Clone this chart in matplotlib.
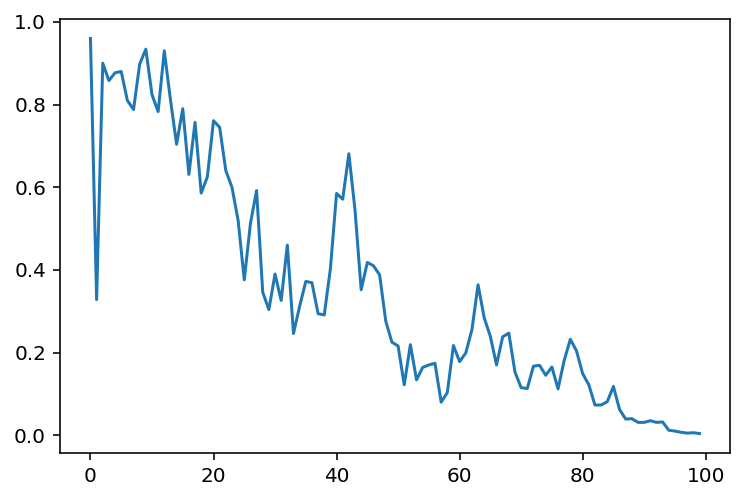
import matplotlib
matplotlib.use("Agg")
import matplotlib.pyplot as plt
import numpy as np

# values, one per step (0..99)
steps = np.arange(100)
values = [
    0.960, 0.328, 0.900, 0.858, 0.877, 0.880, 0.810, 0.788, 0.898, 0.934,
    0.824, 0.783, 0.930, 0.812, 0.704, 0.790, 0.631, 0.757, 0.586, 0.625,
    0.761, 0.745, 0.640, 0.600, 0.520, 0.376, 0.512, 0.592, 0.346, 0.304,
    0.390, 0.326, 0.460, 0.246, 0.312, 0.372, 0.369, 0.294, 0.291, 0.403,
    0.585, 0.571, 0.681, 0.545, 0.352, 0.418, 0.410, 0.388, 0.276, 0.225,
    0.216, 0.122, 0.219, 0.134, 0.164, 0.170, 0.174, 0.080, 0.103, 0.217,
    0.178, 0.199, 0.255, 0.364, 0.284, 0.239, 0.170, 0.238, 0.247, 0.153,
    0.115, 0.113, 0.167, 0.169, 0.145, 0.165, 0.112, 0.181, 0.232, 0.204,
    0.149, 0.122, 0.073, 0.073, 0.081, 0.118, 0.062, 0.039, 0.040, 0.031,
    0.031, 0.035, 0.031, 0.032, 0.012, 0.010, 0.007, 0.005, 0.006, 0.004,
]

fig = plt.figure(figsize=(744 / 144, 501 / 144), dpi=144)
ax = fig.add_axes([60 / 744, 1 - 453.3 / 501, 670 / 744, (453.3 - 18.7) / 501])
ax.plot(steps, values)

fig.savefig("out.png", dpi=144)
